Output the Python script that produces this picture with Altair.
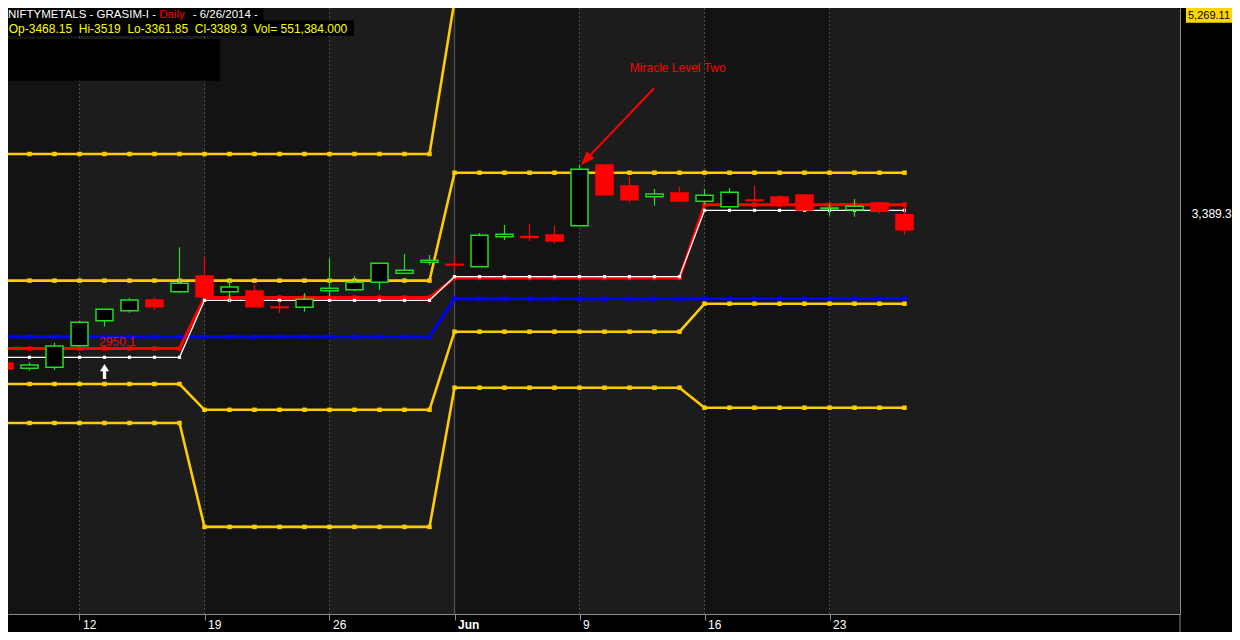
import altair as alt
import pandas as pd

FONT = "Liberation Sans"

# ---------------- data ----------------
dates = [
    "2014-05-07", "2014-05-08", "2014-05-09",
    "2014-05-12", "2014-05-13", "2014-05-14", "2014-05-15", "2014-05-16",
    "2014-05-19", "2014-05-20", "2014-05-21", "2014-05-22", "2014-05-23",
    "2014-05-26", "2014-05-27", "2014-05-28", "2014-05-29", "2014-05-30",
    "2014-06-02", "2014-06-03", "2014-06-04", "2014-06-05", "2014-06-06",
    "2014-06-09", "2014-06-10", "2014-06-11", "2014-06-12", "2014-06-13",
    "2014-06-16", "2014-06-17", "2014-06-18", "2014-06-19", "2014-06-20",
    "2014-06-23", "2014-06-24", "2014-06-25", "2014-06-26",
]
opens = [2682.8, 2654.7, 2660.0, 2774.5, 2907.0, 2960.0, 3016.7, 3060.7,
         3143.9, 3060.7, 3064.4, 2979.6, 2978.0, 3066.0, 3071.3, 3110.5,
         3158.2, 3216.5, 3205.9, 3193.2, 3352.2, 3353.2, 3361.2, 3410.5,
         3732.2, 3620.9, 3564.2, 3583.8, 3539.8, 3511.2, 3546.7, 3562.6,
         3573.2, 3501.1, 3495.3, 3530.8, 3468.15]
highs = [2693.4, 2686.5, 2790.4, 2905.4, 2969.0, 3027.3, 3028.9, 3296.0,
         3246.2, 3122.7, 3096.2, 3009.8, 3053.8, 3237.7, 3143.9, 3212.8,
         3260.5, 3255.2, 3244.6, 3371.8, 3414.2, 3419.5, 3408.9, 3732.2,
         3737.5, 3668.6, 3605.0, 3615.6, 3605.0, 3610.3, 3620.9, 3573.2,
         3575.8, 3525.5, 3552.0, 3533.4, 3519.0]
lows = [2640.4, 2642.0, 2645.7, 2770.2, 2875.2, 2949.4, 2963.7, 3055.4,
        3029.9, 3008.7, 2979.5, 2947.8, 2954.7, 3039.5, 3064.4, 3069.7,
        3155.6, 3202.2, 3174.6, 3191.6, 3334.7, 3329.4, 3315.1, 3408.9,
        3567.9, 3532.4, 3516.5, 3536.1, 3520.2, 3510.0, 3511.2, 3525.5,
        3491.0, 3463.5, 3458.2, 3474.1, 3361.85]
closes = [2651.0, 2672.2, 2772.9, 2898.5, 2967.4, 3016.7, 2981.2, 3105.2,
          3034.2, 3085.6, 2981.2, 2976.4, 3020.4, 3078.7, 3110.5, 3211.2,
          3174.1, 3227.1, 3202.2, 3359.6, 3364.9, 3347.9, 3329.4, 3709.4,
          3574.8, 3548.3, 3578.5, 3541.4, 3571.6, 3587.5, 3543.5, 3532.4,
          3493.7, 3504.3, 3513.3, 3486.8, 3389.3]

yellow_1 = [3790.5, 3790.5, 3790.5, 3790.5, 3790.5, 3790.5, 3790.5, 3790.5,
            3790.5, 3790.5, 3790.5, 3790.5, 3790.5, 3790.5, 3790.5, 3790.5,
            3790.5, 3790.5, 4603.0, 4603.0, 4603.0, 4603.0, 4603.0, 4603.0,
            4603.0, 4603.0, 4603.0, 4603.0, 4603.0, 4603.0, 4603.0, 4603.0,
            4603.0, 4603.0, 4603.0, 4603.0, 4603.0]
yellow_2 = [3119.5, 3119.5, 3119.5, 3119.5, 3119.5, 3119.5, 3119.5, 3119.5,
            3119.5, 3119.5, 3119.5, 3119.5, 3119.5, 3119.5, 3119.5, 3119.5,
            3119.5, 3119.5, 3691.4, 3691.4, 3691.4, 3691.4, 3691.4, 3691.4,
            3691.4, 3691.4, 3691.4, 3691.4, 3691.4, 3691.4, 3691.4, 3691.4,
            3691.4, 3691.4, 3691.4, 3691.4, 3691.4]
yellow_3 = [2571.5, 2571.5, 2571.5, 2571.5, 2571.5, 2571.5, 2571.5, 2571.5,
            2434.8, 2434.8, 2434.8, 2434.8, 2434.8, 2434.8, 2434.8, 2434.8,
            2434.8, 2434.8, 2848.7, 2848.7, 2848.7, 2848.7, 2848.7, 2848.7,
            2848.7, 2848.7, 2848.7, 2848.7, 2997.1, 2997.1, 2997.1, 2997.1,
            2997.1, 2997.1, 2997.1, 2997.1, 2997.1]
yellow_4 = [2364.8, 2364.8, 2364.8, 2364.8, 2364.8, 2364.8, 2364.8, 2364.8,
            1814.1, 1814.1, 1814.1, 1814.1, 1814.1, 1814.1, 1814.1, 1814.1,
            1814.1, 1814.1, 2551.9, 2551.9, 2551.9, 2551.9, 2551.9, 2551.9,
            2551.9, 2551.9, 2551.9, 2551.9, 2445.9, 2445.9, 2445.9, 2445.9,
            2445.9, 2445.9, 2445.9, 2445.9, 2445.9]
blue_line = [2821.7, 2821.7, 2821.7, 2821.7, 2821.7, 2821.7, 2821.7, 2821.7,
             2821.7, 2821.7, 2821.7, 2821.7, 2821.7, 2821.7, 2821.7, 2821.7,
             2821.7, 2821.7, 3023.6, 3023.6, 3023.6, 3023.6, 3023.6, 3023.6,
             3023.6, 3023.6, 3023.6, 3023.6, 3023.6, 3023.6, 3023.6, 3023.6,
             3023.6, 3023.6, 3023.6, 3023.6, 3023.6]
red_line = [2759.7, 2759.7, 2759.7, 2759.7, 2759.7, 2759.7, 2759.7, 2759.7,
            3029.9, 3029.9, 3029.9, 3029.9, 3029.9, 3029.9, 3029.9, 3029.9,
            3029.9, 3029.9, 3133.3, 3133.3, 3133.3, 3133.3, 3133.3, 3133.3,
            3133.3, 3133.3, 3133.3, 3133.3, 3521.8, 3521.8, 3521.8, 3521.8,
            3521.8, 3521.8, 3521.8, 3521.8, 3521.8]
white_line = [2713.0, 2713.0, 2713.0, 2713.0, 2713.0, 2713.0, 2713.0, 2713.0,
              3015.1, 3015.1, 3015.1, 3015.1, 3015.1, 3015.1, 3015.1, 3015.1,
              3015.1, 3015.1, 3140.2, 3140.2, 3140.2, 3140.2, 3140.2, 3140.2,
              3140.2, 3140.2, 3140.2, 3140.2, 3492.1, 3492.1, 3492.1, 3492.1,
              3492.1, 3492.1, 3492.1, 3492.1, 3492.1]

tick_dates = ["2014-05-12", "2014-05-19", "2014-05-26", "2014-06-02",
              "2014-06-09", "2014-06-16", "2014-06-23"]
tick_labels = ["12", "19", "26", "Jun", "9", "16", "23"]
month_tick = "2014-06-02"

# annotations (index, price)
note_text = ["Miracle Level Two"]
note_pos = [26.93, 4247.9]
arrow_from = [25.98, 4138.7]
arrow_head = [23.25, 3759.2]
level_label = ["2950.1"]
level_label_pos = [3.79, 2792.5]
up_arrow_pos = [4.0, 2637.7]

header_1 = ["NIFTYMETALS - GRASIM-I -", "Daily", "- 6/26/2014 -"]
header_2 = ["Op-3468.15\u00a0\u00a0Hi-3519\u00a0\u00a0Lo-3361.85\u00a0\u00a0Cl-3389.3\u00a0\u00a0Vol=\u00a0551,384.000"]
axis_top_label = ["5,269.11"]
close_label = ["3,389.3"]

# ---------------- build tables ----------------
idx = list(range(len(dates)))
candles = pd.DataFrame({"idx": idx, "date": dates, "open": opens, "high": highs,
                        "low": lows, "close": closes})
candles["dir"] = ["up" if c >= o else "down" for o, c in zip(opens, closes)]

tick_idx = [dates.index(d) for d in tick_dates]
label_expr = " : ".join(
    f"datum.value == {i} ? '{t}'" for i, t in zip(tick_idx, tick_labels)
) + " : ''"
month_idx = dates.index(month_tick)

xs = alt.Scale(domain=[0.14, 47.02], nice=False, zero=False, padding=0)
ys = alt.Scale(domain=[1352.5, 4564.3], nice=False, zero=False, padding=0)

x_axis = alt.Axis(
    values=tick_idx, labelExpr=label_expr, grid=False, title=None,
    domainColor="#8c8c8c", tickColor="#8c8c8c", tickSize=6,
    labelColor="#ffffff", labelFont=FONT, labelFontSize=12,
    labelAlign="left", labelOffset=3, labelBaseline="middle", labelPadding=4,
    labelFlush=False, labelOverlap=False,
    labelFontWeight={"condition": {"test": f"datum.value == {month_idx}", "value": "bold"},
                     "value": "normal"},
)
y_axis = alt.Axis(orient="right", labels=False, ticks=False, grid=False, title=None,
                  domainColor="#8c8c8c")


def X(field):
    return alt.X(field, type="quantitative", scale=xs, axis=x_axis)


def Y(field):
    return alt.Y(field, type="quantitative", scale=ys, axis=y_axis)


# background week bands
dark_bands = pd.DataFrame({
    "start": [-1, tick_idx[1], tick_idx[3], tick_idx[5]],
    "end": [tick_idx[0], tick_idx[2], tick_idx[4], tick_idx[6]],
    "lo": [1000.0] * 4, "hi": [5000.0] * 4,
})
bands = alt.Chart(dark_bands).mark_rect(color="#131313", clip=True).encode(
    x=X("start"), x2="end", y=Y("lo"), y2="hi")

grid_df = pd.DataFrame({"idx": tick_idx,
                        "kind": ["month" if i == month_idx else "week" for i in tick_idx]})
grid_week = alt.Chart(grid_df).transform_filter("datum.kind == 'week'").mark_rule(
    color="#4a4a4a", strokeDash=[2, 2], strokeWidth=1).encode(x=X("idx"))
grid_month = alt.Chart(grid_df).transform_filter("datum.kind == 'month'").mark_rule(
    color="#505050", strokeWidth=1.3).encode(x=X("idx"))


def level_line(values, color, width, msize):
    df = pd.DataFrame({"idx": idx, "v": values})
    return alt.Chart(df).mark_line(
        color=color, strokeWidth=width, clip=True,
        point=alt.OverlayMarkDef(shape="square", size=msize, color=color,
                                 filled=True, clip=True, opacity=1),
    ).encode(x=X("idx"), y=Y("v"))


yellow = "#ffcc00"
lines = [
    level_line(yellow_1, yellow, 2.6, 20),
    level_line(yellow_2, yellow, 2.6, 20),
    level_line(yellow_3, yellow, 2.6, 20),
    level_line(yellow_4, yellow, 2.6, 20),
    level_line(blue_line, "#0000ff", 3.0, 20),
    level_line(red_line, "#ff0000", 3.0, 20),
    level_line(white_line, "#ffffff", 1.3, 10),
]

green = "#1ee01e"
red = "#ff0000"
dir_stroke = alt.Scale(domain=["up", "down"], range=[green, red])
dir_fill = alt.Scale(domain=["up", "down"], range=["#000000", red])

wicks = alt.Chart(candles).mark_rule(strokeWidth=1.2, clip=True).encode(
    x=X("idx"), y=Y("low"), y2="high",
    color=alt.Color("dir:N", scale=dir_stroke, legend=None))
bodies = alt.Chart(candles).mark_bar(size=17, strokeWidth=1.5, clip=True).encode(
    x=X("idx"), y=Y("open"), y2="close",
    fill=alt.Fill("dir:N", scale=dir_fill, legend=None),
    stroke=alt.Stroke("dir:N", scale=dir_stroke, legend=None))

# annotations in data coordinates
note = alt.Chart(pd.DataFrame({"idx": [note_pos[0]], "v": [note_pos[1]], "t": note_text})).mark_text(
    color=red, font=FONT, fontSize=12, align="center", baseline="middle").encode(
    x=X("idx"), y=Y("v"), text="t:N")
arrow_line = alt.Chart(pd.DataFrame({"x1": [arrow_from[0]], "y1": [arrow_from[1]],
                                     "x2": [arrow_head[0]], "y2": [arrow_head[1]]})).mark_rule(
    color=red, strokeWidth=2).encode(x=X("x1"), y=Y("y1"), x2="x2", y2="y2")
arrow_tip = alt.Chart(pd.DataFrame({"idx": [arrow_head[0]], "v": [arrow_head[1]]})).mark_point(
    shape="M0,-1L0.75,1L-0.75,1Z", size=196, angle=223.5, filled=True, color=red,
    opacity=1, strokeWidth=0).encode(x=X("idx"), y=Y("v"))
lvl = alt.Chart(pd.DataFrame({"idx": [level_label_pos[0]], "v": [level_label_pos[1]],
                              "t": level_label})).mark_text(
    color="#e01010", font=FONT, fontSize=12, align="left", baseline="middle").encode(
    x=X("idx"), y=Y("v"), text="t:N")
up_arrow = alt.Chart(pd.DataFrame({"idx": [up_arrow_pos[0]], "v": [up_arrow_pos[1]]})).mark_point(
    shape="M0,-1L0.6,-0.05L0.22,-0.05L0.22,1L-0.22,1L-0.22,-0.05L-0.6,-0.05Z",
    size=225, filled=True, color="#ffffff", opacity=1, strokeWidth=0).encode(
    x=X("idx"), y=Y("v"))

close_txt = alt.Chart(pd.DataFrame({"v": [closes[-1]], "t": close_label})).mark_text(
    color="#ffffff", font=FONT, fontSize=12, align="left", baseline="middle", dy=-15.7).encode(
    x=alt.value(1183.7), y=Y("v"), text="t:N")


# decorations placed in the chart's frame
def box(x1, x2, y1, y2, color):
    return alt.Chart(pd.DataFrame({"a": [0]})).mark_rect(color=color).encode(
        x=alt.value(x1), x2=alt.value(x2), y=alt.value(y1), y2=alt.value(y2))


def label(txt, x, y, color, size=12, weight="normal"):
    return alt.Chart(pd.DataFrame({"t": [txt]})).mark_text(
        color=color, font=FONT, fontSize=size, fontWeight=weight,
        align="left", baseline="middle").encode(
        x=alt.value(x), y=alt.value(y), text="t:N")


deco = [
    box(0, 255.3, 0, 12.5, "#000000"),
    box(0, 346, 12.5, 28, "#000000"),
    box(0, 212, 31, 72.7, "#000000"),
    label(header_1[0], 0, 6.8, "#ffffff", 11.5),
    label(header_1[1], 151.3, 6.8, "#ff0000", 11.5),
    label(header_1[2], 184.7, 6.8, "#ffffff", 11.5),
    label(header_2[0], 0.7, 20.5, "#ffff00", 12),
    box(1178, 1224, 0, 14.7, "#ffd700"),
    label(axis_top_label[0], 1180, 7.6, "#000000", 11),
    alt.Chart(pd.DataFrame({"a": [0]})).mark_rule(color="#8c8c8c", strokeWidth=1).encode(
        x=alt.value(1172), y=alt.value(606), y2=alt.value(624)),
]

chart = alt.layer(
    bands, grid_week, grid_month, *lines, wicks, bodies,
    note, arrow_line, arrow_tip, lvl, up_arrow, close_txt, *deco,
).properties(
    width=1172, height=606,
    autosize=alt.AutoSizeParams(type="none"),
    padding={"left": 0, "top": 0, "right": 52, "bottom": 18},
).configure(
    background="#000000",
).configure_view(
    fill="#1c1c1c", strokeWidth=0,
)

chart.save("out.html", embed_options={"renderer": "svg", "actions": False})
